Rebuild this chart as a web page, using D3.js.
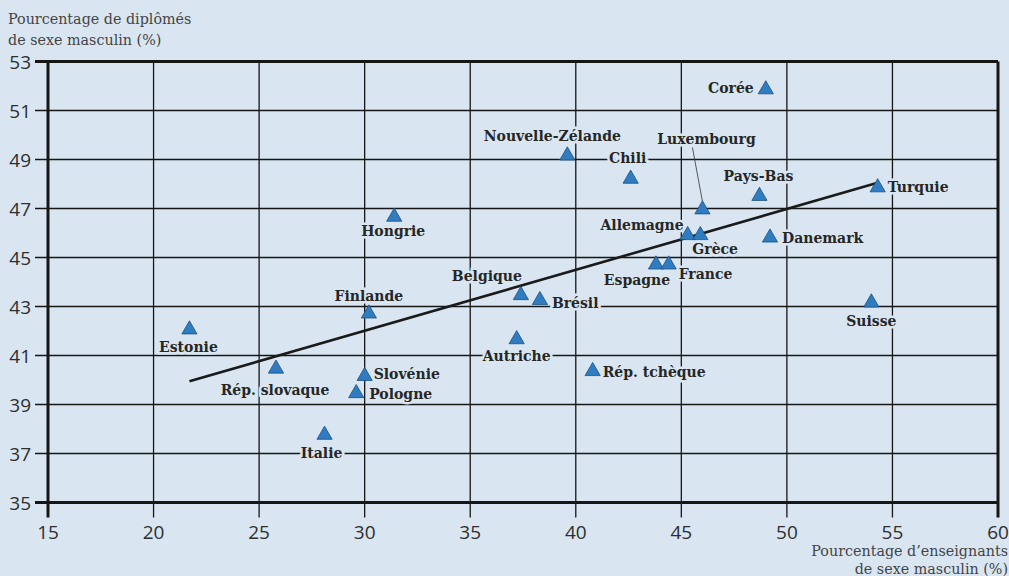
<!DOCTYPE html>
<html>
<head>
<meta charset="utf-8">
<script src="https://cdn.jsdelivr.net/npm/d3@7"></script>
<style>
  body { margin: 0; background: #d9e6f2; }
  svg { display: block; }
</style>
</head>
<body>
<div id="chart"></div>
<script>
// values
var countries = ["Corée", "Nouvelle-Zélande", "Chili", "Luxembourg", "Pays-Bas", "Turquie",
  "Hongrie", "Allemagne", "Grèce", "Danemark", "Espagne", "France", "Belgique", "Brésil",
  "Finlande", "Suisse", "Estonie", "Autriche", "Rép. slovaque", "Slovénie", "Pologne",
  "Rép. tchèque", "Italie"];
var teachersMale = [49.0, 39.6, 42.6, 46.0, 48.7, 54.3, 31.4, 45.3, 45.9, 49.2, 43.8, 44.4,
  37.4, 38.3, 30.2, 54.0, 21.7, 37.2, 25.8, 30.0, 29.6, 40.8, 28.1];
var graduatesMale = [51.9, 49.2, 48.25, 47.0, 47.55, 47.9, 46.7, 45.95, 45.95, 45.85, 44.75, 44.75,
  43.5, 43.3, 42.75, 43.2, 42.1, 41.7, 40.5, 40.2, 39.5, 40.4, 37.8];
var trendX = [21.7, 54.3];
var trendY = [39.95, 48.05];
var xTicks = [15, 20, 25, 30, 35, 40, 45, 50, 55, 60];
var yTicks = [35, 37, 39, 41, 43, 45, 47, 49, 51, 53];

// label placement around each triangle: [dx, dy, anchor]
var labelPos = {
  "Corée": [-12, 5, "end"],
  "Nouvelle-Zélande": [-15, -14, "middle"],
  "Chili": [-3, -15, "middle"],
  "Luxembourg": [4, -65, "middle"],
  "Pays-Bas": [-1, -14, "middle"],
  "Turquie": [10, 6, "start"],
  "Hongrie": [-1, 20, "middle"],
  "Allemagne": [-4, -4, "end"],
  "Grèce": [-8, 20, "start"],
  "Danemark": [12, 6, "start"],
  "Espagne": [-19, 21, "middle"],
  "France": [10, 15, "start"],
  "Belgique": [-34, -13, "middle"],
  "Brésil": [12, 9, "start"],
  "Finlande": [0, -12, "middle"],
  "Suisse": [0, 24, "middle"],
  "Estonie": [-1, 23, "middle"],
  "Autriche": [0, 23, "middle"],
  "Rép. slovaque": [-1, 27, "middle"],
  "Slovénie": [9, 4, "start"],
  "Pologne": [13, 7, "start"],
  "Rép. tchèque": [10, 7, "start"],
  "Italie": [-3, 24, "middle"]
};

var W = 1009, H = 576;
var bg = "#d9e6f2";
var x0 = 48, x1 = 998, yTop = 61.5, yBot = 502.5;

var svg = d3.select("#chart").append("svg")
  .attr("width", W)
  .attr("height", H);

svg.append("rect").attr("width", W).attr("height", H).attr("fill", bg);

var x = d3.scaleLinear().domain([15, 60]).range([x0, x1]);
var y = d3.scaleLinear().domain([35, 53]).range([yBot, yTop]);

// vertical grid lines (with tick stubs below the plot)
svg.append("g").selectAll("line")
  .data(xTicks)
  .join("line")
    .attr("x1", function(d) { return x(d); })
    .attr("x2", function(d) { return x(d); })
    .attr("y1", yTop)
    .attr("y2", yBot + 15)
    .attr("stroke", "#161616")
    .attr("stroke-width", function(d) { return (d === 15 || d === 60) ? 3 : 1.3; });

// horizontal grid lines (with tick stubs left of the plot)
svg.append("g").selectAll("line")
  .data(yTicks)
  .join("line")
    .attr("x1", x0 - 13)
    .attr("x2", x1)
    .attr("y1", function(d) { return y(d); })
    .attr("y2", function(d) { return y(d); })
    .attr("stroke", "#161616")
    .attr("stroke-width", function(d) { return (d === 35 || d === 53) ? 3 : 1.3; });

// tick labels
svg.append("g").selectAll("text")
  .data(yTicks)
  .join("text")
    .attr("x", x0 - 17)
    .attr("y", function(d) { return y(d) + 7; })
    .attr("text-anchor", "end")
    .attr("font-family", "Open Sans, sans-serif")
    .attr("font-size", 19)
    .attr("fill", "#2e2e2e")
    .text(function(d) { return d; });

svg.append("g").selectAll("text")
  .data(xTicks)
  .join("text")
    .attr("x", function(d) { return x(d); })
    .attr("y", yBot + 36)
    .attr("text-anchor", "middle")
    .attr("font-family", "Open Sans, sans-serif")
    .attr("font-size", 19)
    .attr("fill", "#2e2e2e")
    .text(function(d) { return d; });

// axis titles
var titleFont = "DejaVu Serif, serif";
svg.append("text")
  .attr("x", 8).attr("y", 24)
  .attr("font-family", titleFont).attr("font-size", 14.3).attr("fill", "#444")
  .text("Pourcentage de diplômés");
svg.append("text")
  .attr("x", 8).attr("y", 45)
  .attr("font-family", titleFont).attr("font-size", 14.3).attr("fill", "#444")
  .text("de sexe masculin (%)");
svg.append("text")
  .attr("x", 1008).attr("y", 556).attr("text-anchor", "end")
  .attr("font-family", titleFont).attr("font-size", 14.3).attr("fill", "#444")
  .text("Pourcentage d\u2019enseignants");
svg.append("text")
  .attr("x", 1008).attr("y", 574).attr("text-anchor", "end")
  .attr("font-family", titleFont).attr("font-size", 14.3).attr("fill", "#444")
  .text("de sexe masculin (%)");

// trend line
svg.append("line")
  .attr("x1", x(trendX[0])).attr("y1", y(trendY[0]))
  .attr("x2", x(trendX[1])).attr("y2", y(trendY[1]))
  .attr("stroke", "#1a1a1a")
  .attr("stroke-width", 2.6);

var points = countries.map(function(c, i) {
  return {name: c, tx: teachersMale[i], gy: graduatesMale[i]};
});

// country labels with a halo in the background colour
svg.append("g").selectAll("text")
  .data(points)
  .join("text")
    .attr("x", function(d) { return x(d.tx) + labelPos[d.name][0]; })
    .attr("y", function(d) { return y(d.gy) + labelPos[d.name][1]; })
    .attr("text-anchor", function(d) { return labelPos[d.name][2]; })
    .attr("font-family", "DejaVu Serif, serif")
    .attr("font-weight", "bold")
    .attr("font-size", 14)
    .attr("fill", "#262626")
    .attr("stroke", bg)
    .attr("stroke-width", 5)
    .attr("paint-order", "stroke")
    .text(function(d) { return d.name; });

// leader line for Luxembourg
var lux = points.filter(function(d) { return d.name === "Luxembourg"; })[0];
svg.append("line")
  .attr("x1", x(lux.tx) - 10).attr("y1", y(lux.gy) - 61)
  .attr("x2", x(lux.tx)).attr("y2", y(lux.gy) - 7)
  .attr("stroke", "#333")
  .attr("stroke-width", 0.8);

// triangles
var tri = d3.symbol().type(d3.symbolTriangle).size(100);
svg.append("g").selectAll("path")
  .data(points)
  .join("path")
    .attr("d", tri)
    .attr("transform", function(d) { return "translate(" + x(d.tx) + "," + (y(d.gy) + 1) + ")"; })
    .attr("fill", "#2f7dc0")
    .attr("stroke", "#1d4f80")
    .attr("stroke-width", 0.8);
</script>
</body>
</html>
